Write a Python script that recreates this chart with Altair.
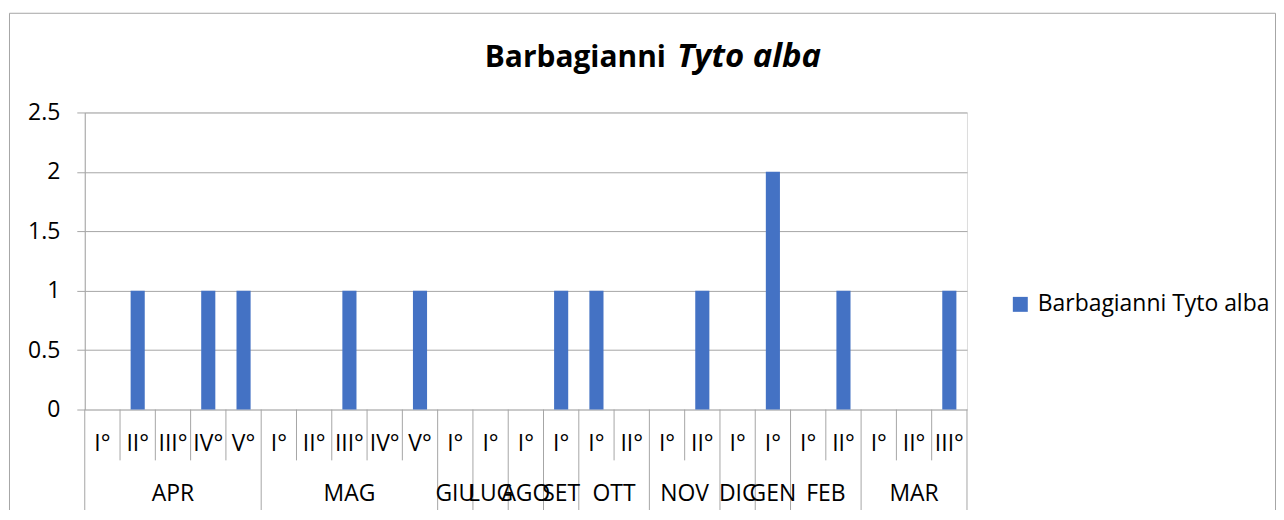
import altair as alt
import pandas as pd

# ---- data ----
months = ["APR", "MAG", "GIU", "LUG", "AGO", "SET", "OTT", "NOV", "DIC", "GEN", "FEB", "MAR"]
periods = [
    ["I°", "II°", "III°", "IV°", "V°"],
    ["I°", "II°", "III°", "IV°", "V°"],
    ["I°"],
    ["I°"],
    ["I°"],
    ["I°"],
    ["I°", "II°"],
    ["I°", "II°"],
    ["I°"],
    ["I°"],
    ["I°", "II°"],
    ["I°", "II°", "III°"],
]
values = [0, 1, 0, 1, 1,
          0, 0, 1, 0, 1,
          0,
          0,
          0,
          1,
          1, 0,
          0, 1,
          0,
          2,
          0, 1,
          0, 0, 1]
series_name = "Barbagianni Tyto alba"
y_ticks = [0, 0.5, 1, 1.5, 2, 2.5]

FONT = "Open Sans"
GRAY = "#a6a6a6"
BLUE = "#4472C4"
FS = 23

# ---- tables built from the arrays ----
rows = []
month_rows = []
i = 0
for m, ps in zip(months, periods):
    start = i
    for p in ps:
        rows.append({"idx": i, "month": m, "period": p})
        i += 1
    month_rows.append({"month": m, "start": start, "end": i})
n = i
df = pd.DataFrame(rows)
df["value"] = values
df["series"] = series_name
df["xs"] = df["idx"] + 0.3
df["xe"] = df["idx"] + 0.7
df["xc"] = df["idx"] + 0.5
mdf = pd.DataFrame(month_rows)
mdf["xc"] = (mdf["start"] + mdf["end"]) / 2
month_bounds = sorted(set(mdf["start"]).union(set(mdf["end"])))
bdf = pd.DataFrame({"pos": list(range(n + 1))})
bdf["long"] = bdf["pos"].isin(month_bounds)

xscale = alt.Scale(domain=[0, n], nice=False, zero=False)
yscale = alt.Scale(domain=[0, 2.5], nice=False)

bars = alt.Chart(df).mark_rect().encode(
    x=alt.X("xs:Q", scale=xscale, axis=None),
    x2="xe:Q",
    y=alt.Y("value:Q", scale=yscale,
            axis=alt.Axis(values=y_ticks, format="~g", title=None, grid=True,
                          gridColor=GRAY, domainColor=GRAY, tickColor=GRAY,
                          tickSize=8, labelPadding=17, labelFontSize=FS,
                          labelColor="#000000", labelFont=FONT)),
    y2=alt.datum(0),
    color=alt.Color("series:N",
                    scale=alt.Scale(domain=[series_name], range=[BLUE]),
                    legend=alt.Legend(title=None, orient="none", legendX=927, legendY=181,
                                      symbolType="square", symbolSize=225,
                                      symbolStrokeWidth=0, labelFontSize=FS,
                                      labelFont=FONT, labelColor="#000000",
                                      labelOffset=6, labelLimit=0, padding=0)),
)

short_rules = alt.Chart(bdf).transform_filter("!datum.long").mark_rule(
    color=GRAY, strokeWidth=1).encode(
    x=alt.X("pos:Q", scale=xscale, axis=None),
    y=alt.value(298), y2=alt.value(349))

long_rules = alt.Chart(bdf).transform_filter("datum.long").mark_rule(
    color=GRAY, strokeWidth=1).encode(
    x=alt.X("pos:Q", scale=xscale, axis=None),
    y=alt.value(298), y2=alt.value(400))

sub_labels = alt.Chart(df).mark_text(
    fontSize=FS, font=FONT, color="#000000", baseline="alphabetic", align="center").encode(
    x=alt.X("xc:Q", scale=xscale, axis=None),
    y=alt.value(340),
    text="period:N")

month_labels = alt.Chart(mdf).mark_text(
    fontSize=FS, font=FONT, color="#000000", baseline="alphabetic", align="center").encode(
    x=alt.X("xc:Q", scale=xscale, axis=None),
    y=alt.value(390),
    text="month:N")

title_df = pd.DataFrame({"a": ["Barbagianni"], "b": ["Tyto alba"]})
title_a = alt.Chart(title_df).mark_text(
    fontSize=30, font=FONT, fontWeight="bold", color="#000000",
    baseline="alphabetic", align="right").encode(
    x=alt.value(583), y=alt.value(-46), text="a:N")
title_b = alt.Chart(title_df).mark_text(
    fontSize=33, font=FONT, fontWeight="bold", fontStyle="italic", color="#000000",
    baseline="alphabetic", align="left").encode(
    x=alt.value(594), y=alt.value(-46), text="b:N")

border = alt.Chart(title_df).mark_rect(
    filled=False, stroke=GRAY, strokeWidth=1, fill=None).encode(
    x=alt.value(-75.5), x2=alt.value(1194.5), y=alt.value(-99.5), y2=alt.value(420))

chart = alt.layer(
    border, bars, short_rules, long_rules, sub_labels, month_labels, title_a, title_b
).properties(
    width=885, height=298,
    padding={"left": 77, "top": 104, "right": 310, "bottom": 100},
    autosize=alt.AutoSizeParams(type="none"),
).configure_view(stroke=None).configure(background="white")

chart.save("out.html", embed_options={"renderer": "svg", "actions": False})
